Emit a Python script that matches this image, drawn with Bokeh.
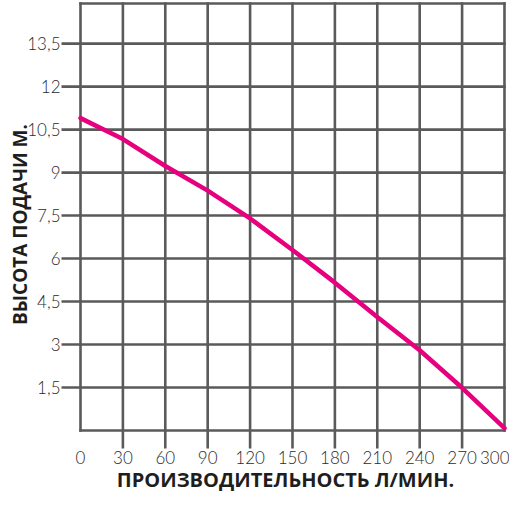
from bokeh.plotting import figure
from bokeh.models import Range1d, FixedTicker
from bokeh.embed import file_html
from bokeh.resources import INLINE

# ---- data ----
flow = [0, 30, 60, 90, 120, 150, 180, 210, 240, 270, 300]          # л/мин
head = [10.9, 10.17, 9.23, 8.37, 7.4, 6.3, 5.16, 3.96, 2.8, 1.49, 0.08]  # м
x_ticks = [0, 30, 60, 90, 120, 150, 180, 210, 240, 270, 300]
y_ticks = [1.5, 3, 4.5, 6, 7.5, 9, 10.5, 12, 13.5]
y_tick_labels = ["1,5", "3", "4,5", "6", "7,5", "9", "10,5", "12", "13,5"]
x_title = "ПРОИЗВОДИТЕЛЬНОСТЬ Л/МИН."
y_title = "ВЫСОТА ПОДАЧИ М."
y_top = 14.9

GRID = "#5a5a5a"
CURVE = "#e6007e"

x_range = Range1d(-13.44, 303.55)
y_range = Range1d(-0.628, 15.005)

p = figure(width=509, height=496, x_range=x_range, y_range=y_range, title=None,
           output_backend="svg", toolbar_location=None,
           min_border_left=61, min_border_right=0, min_border_top=0,
           min_border_bottom=48)
p.outline_line_color = None
p.xgrid.visible = False
p.ygrid.visible = False
p.background_fill_color = "white"
p.border_fill_color = "white"

# grid lines (vertical)
vx0, vx1, vy0, vy1 = [], [], [], []
for xt in x_ticks:
    vx0.append(xt); vx1.append(xt)
    vy0.append(0 if xt in (x_ticks[0], x_ticks[-1]) else y_range.start - 1)
    vy1.append(y_top)
# horizontal
for yt in [0] + y_ticks + [y_top]:
    vy0.append(yt); vy1.append(yt)
    vx0.append(x_range.start - 10 if yt in y_ticks else x_ticks[0])
    vx1.append(x_ticks[-1])
p.segment(x0=vx0, y0=vy0, x1=vx1, y1=vy1, line_color=GRID, line_width=2.6,
          line_cap="square")

p.line(flow, head, line_color=CURVE, line_width=4.5, line_cap="round", line_join="round")

LABEL_FONT = "Lato Light"

# axes
xa = p.xaxis[0]
xa.ticker = FixedTicker(ticks=x_ticks)
xa.axis_line_color = None
xa.major_tick_line_color = None
xa.minor_tick_line_color = None
xa.major_tick_out = 0
xa.major_tick_in = 0
xa.major_label_standoff = 2
xa.major_label_text_font = LABEL_FONT
xa.major_label_text_font_size = "17px"
xa.major_label_text_color = "#2b2b2b"
xa.axis_label = x_title
xa.axis_label_text_font = "Open Sans"
xa.axis_label_text_font_style = "bold"
xa.axis_label_text_font_size = "20px"
xa.axis_label_text_color = "#1e1e1e"
xa.axis_label_standoff = -1

ya = p.yaxis[0]
ya.ticker = FixedTicker(ticks=y_ticks)
ya.major_label_overrides = {t: s for t, s in zip(y_ticks, y_tick_labels)}
ya.axis_line_color = None
ya.major_tick_line_color = None
ya.minor_tick_line_color = None
ya.major_tick_out = 0
ya.major_tick_in = 0
ya.major_label_standoff = 1
ya.major_label_text_font = LABEL_FONT
ya.major_label_text_font_size = "17px"
ya.major_label_text_color = "#2b2b2b"
ya.axis_label = y_title
ya.axis_label_text_font = "Open Sans"
ya.axis_label_text_font_style = "bold"
ya.axis_label_text_font_size = "19px"
ya.axis_label_text_color = "#1e1e1e"
ya.axis_label_standoff = -9

open("out.html", "w").write(file_html(p, INLINE))
